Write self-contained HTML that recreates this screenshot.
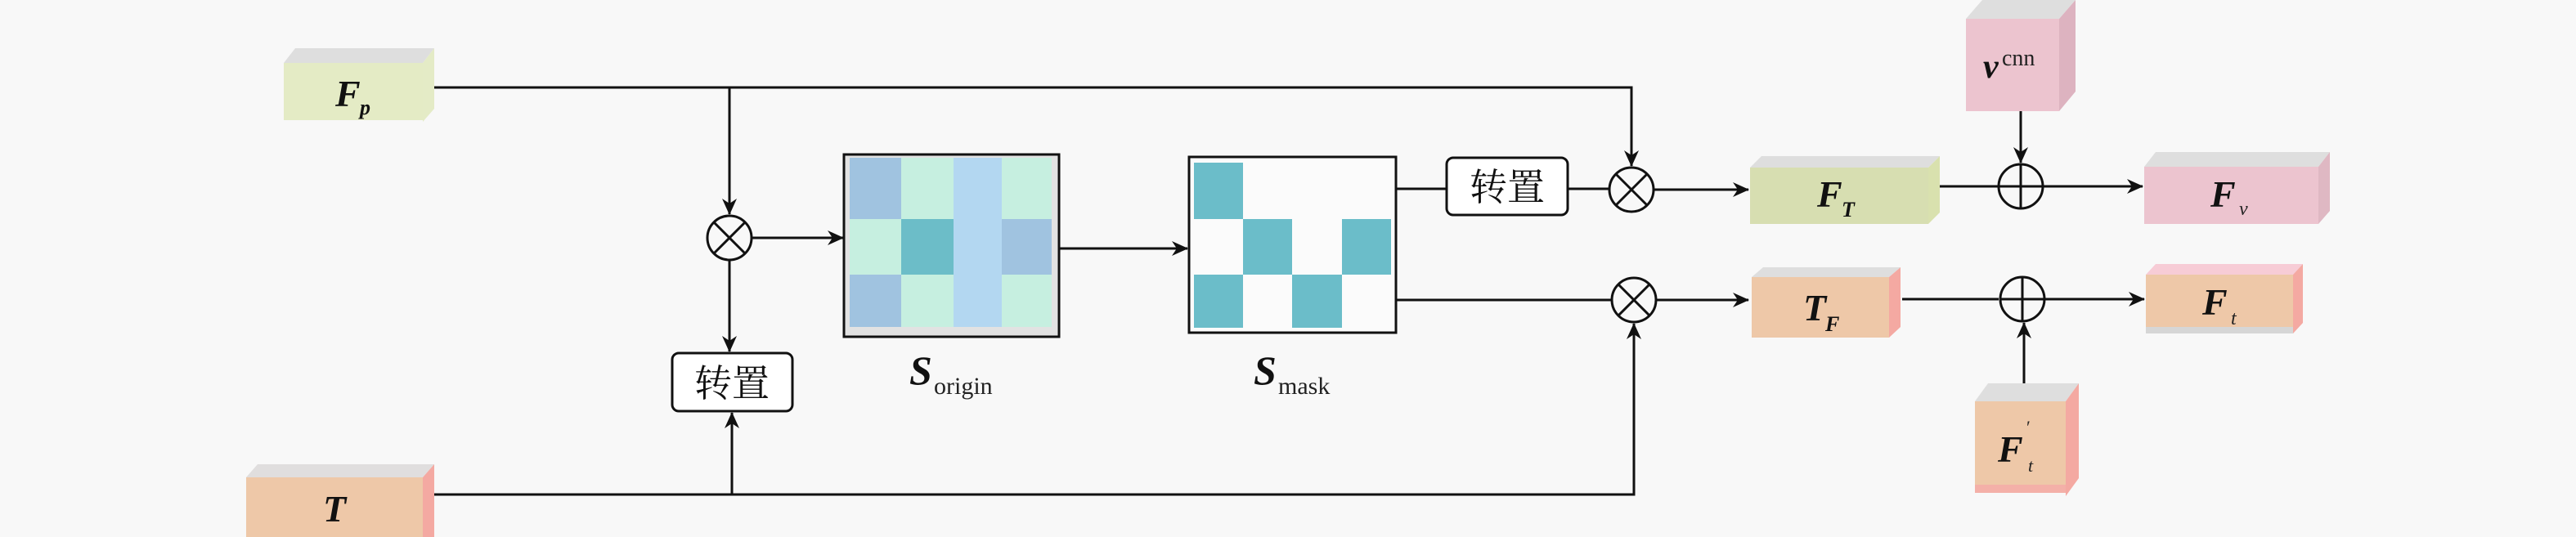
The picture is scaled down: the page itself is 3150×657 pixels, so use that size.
<!DOCTYPE html>
<html><head><meta charset="utf-8"><style>
html,body{margin:0;padding:0;background:#f8f8f8;}
svg{display:block;}
.l{font-family:"Liberation Serif",serif;font-weight:bold;font-style:italic;fill:#111;}
.s{font-family:"Liberation Serif",serif;fill:#222;}
.c{font-family:"Liberation Serif","Noto Serif CJK SC",serif;fill:#111;}
</style></head><body>
<svg width="3150" height="657" viewBox="0 0 3150 657" xmlns="http://www.w3.org/2000/svg">
<defs>
<marker id="a" viewBox="0 0 20 20" refX="19" refY="10" markerWidth="20" markerHeight="20" markerUnits="userSpaceOnUse" orient="auto">
<path d="M0,1 L20,10 L0,19 L6,10 Z" fill="#111"/>
</marker>
</defs>
<rect width="3150" height="657" fill="#f8f8f8"/>
<g stroke="#111" stroke-width="3" fill="none">
<!-- Fp line -->
<path d="M531,107 H1995 V203" marker-end="url(#a)"/>
<path d="M892,107 V262" marker-end="url(#a)"/>
<path d="M919,291 H1031" marker-end="url(#a)"/>
<path d="M892,318 V430" marker-end="url(#a)"/>
<path d="M531,605 H1998 V396" marker-end="url(#a)"/>
<path d="M895,605 V505" marker-end="url(#a)"/>
<path d="M1295,304 H1452" marker-end="url(#a)"/>
<path d="M1708,231 H1769 M1917,231 H1968"/>
<path d="M2022,232 H2138" marker-end="url(#a)"/>
<path d="M1708,367 H1971"/>
<path d="M2025,367 H2138" marker-end="url(#a)"/>
<path d="M2372,228 H2444 M2498,228 H2620" marker-end="url(#a)"/>
<path d="M2471,136 V199" marker-end="url(#a)"/>
<path d="M2326,366 H2444 M2498,366 H2622" marker-end="url(#a)"/>
<path d="M2475,469 V395" marker-end="url(#a)"/>
<!-- circles -->
<circle cx="892" cy="291" r="27"/>
<path d="M873,272 L911,310 M911,272 L873,310"/>
<circle cx="1995" cy="232" r="27"/>
<path d="M1976,213 L2014,251 M2014,213 L1976,251"/>
<circle cx="1998" cy="367" r="27"/>
<path d="M1979,348 L2017,386 M2017,348 L1979,386"/>
<circle cx="2471" cy="228" r="27"/>
<path d="M2444,228 H2498 M2471,201 V255"/>
<circle cx="2473" cy="366" r="27"/>
<path d="M2446,366 H2500 M2473,339 V393"/>
<!-- transpose boxes -->
<rect x="822" y="432" width="147" height="71" rx="8" fill="#fff"/>
<rect x="1769" y="193" width="148" height="70" rx="8" fill="#fff"/>
</g>
<text x="895" y="485" class="c" font-size="46" text-anchor="middle">转置</text>
<text x="1843" y="245" class="c" font-size="46" text-anchor="middle">转置</text>

<!-- S_origin -->
<rect x="1032" y="189" width="263" height="223" fill="#e2e2e2" stroke="#111" stroke-width="3"/>
<g>
<rect x="1039" y="193" width="63" height="75" fill="#a0c3e0"/>
<rect x="1102" y="193" width="64" height="75" fill="#c6efe0"/>
<rect x="1166" y="193" width="59" height="207" fill="#b3d7f1"/>
<rect x="1225" y="193" width="61" height="75" fill="#c6efe0"/>
<rect x="1039" y="268" width="63" height="68" fill="#c6efe0"/>
<rect x="1102" y="268" width="64" height="68" fill="#6cbdc8"/>
<rect x="1225" y="268" width="61" height="68" fill="#a0c3e0"/>
<rect x="1039" y="336" width="63" height="64" fill="#a0c3e0"/>
<rect x="1102" y="336" width="64" height="64" fill="#c6efe0"/>
<rect x="1225" y="336" width="61" height="64" fill="#c6efe0"/>
</g>
<rect x="1032" y="189" width="263" height="223" fill="none" stroke="#111" stroke-width="3"/>
<!-- S_mask -->
<rect x="1454" y="192" width="253" height="215" fill="#fbfbfb" stroke="#111" stroke-width="3"/>
<rect x="1460" y="199" width="60" height="69" fill="#6bbdc9"/>
<rect x="1520" y="268" width="60" height="68" fill="#6bbdc9"/>
<rect x="1641" y="268" width="60" height="68" fill="#6bbdc9"/>
<rect x="1460" y="336" width="60" height="65" fill="#6bbdc9"/>
<rect x="1580" y="336" width="61" height="65" fill="#6bbdc9"/>

<text x="1112" y="470" class="l" font-size="50">S</text><text x="1142" y="482" class="s" font-size="30">origin</text>
<text x="1533" y="470" class="l" font-size="50">S</text><text x="1563" y="482" class="s" font-size="30">mask</text>

<!-- boxes: front, top, side -->
<!-- Fp -->
<polygon points="347,77 361,59 531,59 517,77" fill="#dedede"/>
<polygon points="517,77 531,59 531,133 517,149" fill="#e4ebc6"/>
<rect x="347" y="77" width="170" height="70" fill="#e4ebc5"/>
<text x="410" y="130" class="l" font-size="46">F</text><text x="440" y="140" class="l" font-size="26" font-weight="normal">p</text>
<!-- T -->
<polygon points="301,584 315,568 531,568 517,584" fill="#e0dede"/>
<polygon points="517,584 531,568 531,657 517,657" fill="#f4a9a2"/>
<rect x="301" y="584" width="216" height="73" fill="#eec8a8"/>
<text x="395" y="638" class="l" font-size="46">T</text>
<!-- F_T -->
<polygon points="2140,205 2154,191 2372,191 2358,205" fill="#dedede"/>
<polygon points="2358,205 2372,191 2372,260 2358,274" fill="#d9e1ae"/>
<rect x="2140" y="205" width="218" height="69" fill="#d7deb1"/>
<text x="2222" y="253" class="l" font-size="46">F</text><text x="2252" y="265" class="l" font-size="26">T</text>
<!-- F_v -->
<polygon points="2622,204 2636,186 2849,186 2835,204" fill="#dedede"/>
<polygon points="2835,204 2849,186 2849,258 2835,274" fill="#dfb8c3"/>
<rect x="2622" y="204" width="213" height="70" fill="#ecc4cf"/>
<text x="2703" y="253" class="l" font-size="46">F</text><text x="2738" y="263" class="s" font-size="24" font-style="italic">v</text>
<!-- v_cnn -->
<polygon points="2404,23 2424,0 2538,0 2518,23" fill="#dedede"/>
<polygon points="2518,23 2538,0 2538,112 2518,136" fill="#ddb3c0"/>
<rect x="2404" y="23" width="114" height="113" fill="#ecc4cf"/>
<text x="2425" y="95" class="l" font-size="42">v</text><text x="2448" y="80" class="s" font-size="28">cnn</text>
<!-- T_F -->
<polygon points="2142,339 2156,327 2324,327 2310,339" fill="#dedede"/>
<polygon points="2310,339 2324,327 2324,400 2310,413" fill="#f4a9a2"/>
<rect x="2142" y="339" width="168" height="74" fill="#eec8a8"/>
<text x="2205" y="392" class="l" font-size="46">T</text><text x="2232" y="405" class="l" font-size="26">F</text>
<!-- F_t -->
<polygon points="2624,336 2636,323 2816,323 2804,336" fill="#f7ccd6"/>
<polygon points="2804,336 2816,323 2816,395 2804,408" fill="#f4a9a2"/>
<rect x="2624" y="336" width="180" height="64" fill="#eec8a8"/>
<rect x="2624" y="400" width="180" height="8" fill="#d6d6d6"/>
<text x="2693" y="385" class="l" font-size="46">F</text><text x="2728" y="397" class="s" font-size="24" font-style="italic">t</text>
<!-- F_t' -->
<polygon points="2415,491 2431,469 2542,469 2526,491" fill="#dedede"/>
<polygon points="2526,491 2542,469 2542,585 2526,607" fill="#f4a9a2"/>
<rect x="2415" y="491" width="111" height="106" fill="#eec8a8"/>
<rect x="2415" y="593" width="111" height="10" fill="#f4b0a8"/>
<text x="2443" y="565" class="l" font-size="46">F</text><text x="2478" y="530" class="s" font-size="22">′</text><text x="2480" y="577" class="s" font-size="22" font-style="italic">t</text>
</svg>
</body></html>
